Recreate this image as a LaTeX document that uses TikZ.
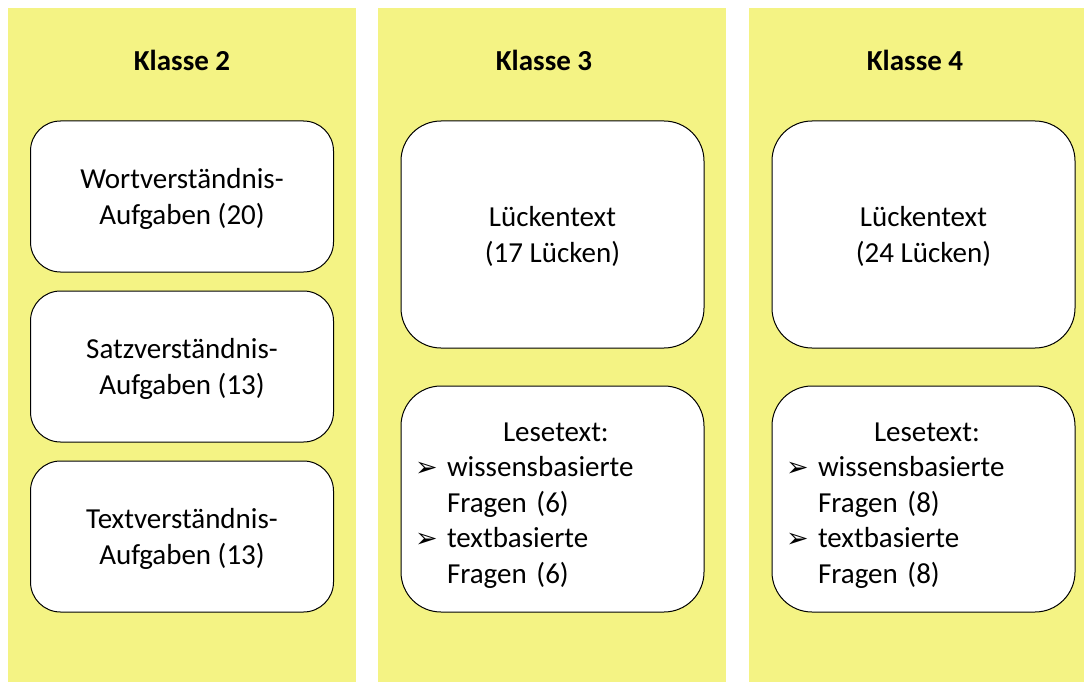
\documentclass[tikz,border=0pt]{standalone}
\usepackage{fontspec}
\setmainfont{Carlito}
\newfontfamily\pfeilfont{DejaVu Sans}
\definecolor{spaltengelb}{RGB}{244,243,132}
\newcommand{\pfeil}{\makebox[32pt][l]{\pfeilfont\fontsize{27pt}{27pt}\selectfont ➢}}

\begin{document}
\begin{tikzpicture}[x=1pt,y=-1pt]
		\tikzstyle{every node}=[font=\fontsize{29pt}{35.5pt}\selectfont]
		\tikzstyle{kasten}=[draw=black, line width=1pt, fill=white, rounded corners=30pt, minimum width=303pt, align=center, inner sep=0pt]
		\tikzstyle{mitte}=[text depth=0pt]
		\tikzstyle{liste}=[rounded corners=40pt, text width=275pt, align=left]
		\tikzstyle{titel}=[font=\fontsize{29pt}{35pt}\selectfont\bfseries]
		
		\useasboundingbox (0,0) rectangle (1084,682);
		
		\fill[spaltengelb] (8,8) rectangle (356,682);
		\fill[spaltengelb] (378,8) rectangle (726,682);
		\fill[spaltengelb] (749,8) rectangle (1084,682);
		
		\node[titel] (titel2) at (182,60) {Klasse 2};
		\node[titel] (titel3) at (544,60) {Klasse 3};
		\node[titel] (titel4) at (915,60) {Klasse 4};
		
		\node[kasten, mitte, minimum height=151pt] (wort) at (182,196.5) {Wortverständnis-\\Aufgaben (20)};
		\node[kasten, mitte, minimum height=151pt] (satz) at (182,366.5) {Satzverständnis-\\Aufgaben (13)};
		\node[kasten, mitte, minimum height=151pt] (text) at (182,536.5) {Textverständnis-\\Aufgaben (13)};
		
		\node[kasten, mitte, minimum height=227pt, rounded corners=40pt] (luecke3) at (552.5,234.5) {Lückentext\\(17 Lücken)};
		\node[kasten, liste, minimum height=226pt] (lese3) at (552.5,499)
		{\rule{0pt}{31pt}\hspace*{88pt}Lesetext:\\\pfeil wissensbasierte\\\hspace*{32pt}Fragen (6)\\\pfeil textbasierte\\\hspace*{32pt}Fragen (6)};
		
		\node[kasten, mitte, minimum height=227pt, rounded corners=40pt] (luecke4) at (923.5,234.5) {Lückentext\\(24 Lücken)};
		\node[kasten, liste, minimum height=226pt] (lese4) at (923.5,499)
		{\rule{0pt}{31pt}\hspace*{88pt}Lesetext:\\\pfeil wissensbasierte\\\hspace*{32pt}Fragen (8)\\\pfeil textbasierte\\\hspace*{32pt}Fragen (8)};
		
	\end{tikzpicture}
\end{document}
